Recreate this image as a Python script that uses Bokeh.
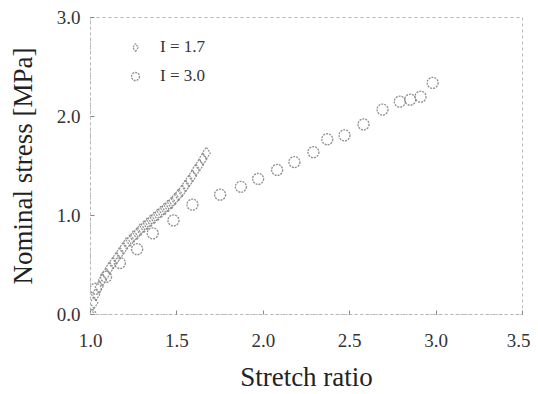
from bokeh.plotting import figure
from bokeh.models import (ColumnDataSource, Range1d, FixedTicker, Legend, LegendItem,
                          NumeralTickFormatter)
from bokeh.embed import file_html
from bokeh.resources import INLINE

# I = 1.7 (diamonds)
ratio_17 = [1.00, 1.02, 1.03, 1.05, 1.07, 1.09, 1.11, 1.13, 1.15, 1.17, 1.19, 1.21,
            1.23, 1.25, 1.27, 1.29, 1.31, 1.33, 1.35, 1.37, 1.39, 1.41, 1.43, 1.45,
            1.47, 1.49, 1.51, 1.53, 1.55, 1.57, 1.59, 1.61, 1.63, 1.65, 1.67]
stress_17 = [0.00, 0.12, 0.20, 0.28, 0.35, 0.41, 0.47, 0.52, 0.57, 0.62, 0.67, 0.72,
             0.75, 0.79, 0.82, 0.86, 0.89, 0.92, 0.95, 0.98, 1.01, 1.04, 1.07, 1.10,
             1.13, 1.17, 1.21, 1.25, 1.30, 1.35, 1.40, 1.46, 1.51, 1.57, 1.63]

# I = 3.0 (circles)
ratio_30 = [1.00, 1.03, 1.09, 1.17, 1.27, 1.36, 1.48, 1.59, 1.75, 1.87, 1.97, 2.08,
            2.18, 2.29, 2.37, 2.47, 2.58, 2.69, 2.79, 2.85, 2.91, 2.98]
stress_30 = [0.00, 0.26, 0.38, 0.52, 0.66, 0.82, 0.95, 1.11, 1.21, 1.29, 1.37, 1.46,
             1.54, 1.64, 1.77, 1.81, 1.92, 2.07, 2.15, 2.17, 2.20, 2.34]

x_ticks = [1.0, 1.5, 2.0, 2.5, 3.0, 3.5]
y_ticks = [0.0, 1.0, 2.0, 3.0]
labels = ["I = 1.7", "I = 3.0"]

FONT = "Liberation Serif"
GREY = "#8f8f8f"

p = figure(width=530, height=394, output_backend="svg", toolbar_location=None,
           x_range=Range1d(1.0, 3.5), y_range=Range1d(0.0, 3.0),
           min_border_left=90, min_border_right=8, min_border_top=17,
           min_border_bottom=78)
p.background_fill_color = "white"
p.border_fill_color = "white"
p.xgrid.visible = False
p.ygrid.visible = False
p.outline_line_color = "#b8b8b8"
p.outline_line_dash = "3 3"
p.outline_line_width = 1

s17 = ColumnDataSource(dict(x=ratio_17, y=stress_17))
s30 = ColumnDataSource(dict(x=ratio_30, y=stress_30))
r1 = p.scatter("x", "y", source=s17, marker="diamond", size=12,
               fill_color=None, line_color=GREY, line_width=1.2, line_dash="2 1")
r2 = p.scatter("x", "y", source=s30, marker="circle", size=11,
               fill_color=None, line_color=GREY, line_width=1.3, line_dash="2 1")

for ax in (p.xaxis[0], p.yaxis[0]):
    ax.axis_line_color = "#b8b8b8"
    ax.axis_line_dash = "2 3"
    ax.major_tick_in = 4
    ax.major_tick_out = 0
    ax.major_tick_line_color = "#888888"
    ax.minor_tick_line_color = None
    ax.major_label_text_font = FONT
    ax.major_label_text_font_size = "19px"
    ax.major_label_text_color = "#333333"
    ax.axis_label_text_font = FONT
    ax.axis_label_text_font_size = "27px"
    ax.axis_label_text_font_style = "normal"
    ax.axis_label_text_color = "#222222"
    ax.formatter = NumeralTickFormatter(format="0.0")

p.xaxis[0].ticker = FixedTicker(ticks=x_ticks)
p.yaxis[0].ticker = FixedTicker(ticks=y_ticks)
p.xaxis[0].axis_label = "Stretch ratio"
p.yaxis[0].axis_label = "Nominal stress [MPa]"
p.xaxis[0].major_label_standoff = 19
p.xaxis[0].axis_label_standoff = 12
p.yaxis[0].major_label_standoff = 10
p.yaxis[0].axis_label_standoff = 16

legend = Legend(items=[LegendItem(label=labels[0], renderers=[r1]),
                       LegendItem(label=labels[1], renderers=[r2])],
                location=(35, 228), margin=0, padding=0,
                glyph_width=20, glyph_height=20, spacing=9, label_standoff=15,
                border_line_color=None, background_fill_alpha=0,
                label_text_font=FONT, label_text_font_size="17px",
                label_text_color="#333333")
p.add_layout(legend)

open("out.html", "w").write(file_html(p, INLINE))
